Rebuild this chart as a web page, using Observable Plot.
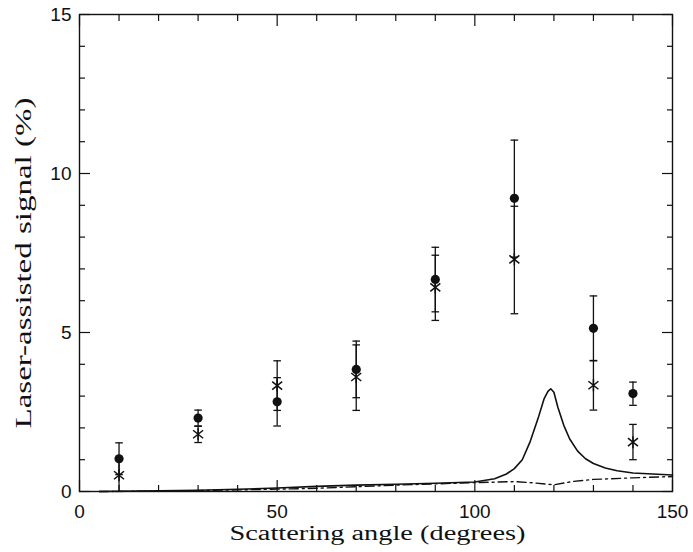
<!DOCTYPE html>
<html>
<head>
<meta charset="utf-8">
<script src="https://cdn.jsdelivr.net/npm/d3@7"></script>
<script src="https://cdn.jsdelivr.net/npm/@observablehq/plot@0.6"></script>
<style>
  html, body { margin: 0; padding: 0; background: #fff; }
</style>
</head>
<body>
<div id="chart"></div>
<script>
// ---- Data ----
const angles   = [10, 30, 50, 70, 90, 110, 130, 140];
const dotVal   = [1.03, 2.31, 2.82, 3.84, 6.67, 9.22, 5.13, 3.08];
const dotLow   = [0.53, 2.06, 2.06, 2.95, 5.65, 7.37, 4.11, 2.71];
const dotHigh  = [1.53, 2.56, 3.58, 4.73, 7.68, 11.05, 6.15, 3.44];
const starVal  = [0.51, 1.80, 3.33, 3.60, 6.42, 7.30, 3.34, 1.55];
const starLow  = [0.00, 1.54, 2.55, 2.55, 5.38, 5.59, 2.56, 1.00];
const starHigh = [1.02, 2.05, 4.11, 4.61, 7.43, 8.97, 4.12, 2.11];

const solidX = [5, 10, 20, 30, 40, 50, 60, 70, 80, 90, 100, 105, 108, 110, 112, 114, 116, 117.5, 118.5, 119.2, 120, 121, 122.5, 124, 126, 128, 130, 133, 136, 140, 145, 150];
const solidY = [0, 0.01, 0.02, 0.04, 0.07, 0.11, 0.16, 0.20, 0.23, 0.26, 0.30, 0.40, 0.55, 0.72, 1.00, 1.57, 2.30, 2.91, 3.15, 3.23, 3.12, 2.65, 2.08, 1.65, 1.27, 1.03, 0.88, 0.74, 0.65, 0.58, 0.55, 0.52];

const dashX = [5, 20, 40, 60, 70, 80, 90, 100, 110, 115, 120, 125, 130, 140, 150];
const dashY = [0, 0.01, 0.05, 0.10, 0.15, 0.20, 0.24, 0.28, 0.31, 0.27, 0.21, 0.32, 0.38, 0.43, 0.47];

const xMajor = [0, 50, 100, 150];
const xMinor = [10, 20, 30, 40, 60, 70, 80, 90, 110, 120, 130, 140];
const yMajor = [0, 5, 10, 15];
const yMinor = [1, 2, 3, 4, 6, 7, 8, 9, 11, 12, 13, 14];

const xTitle = "Scattering angle (degrees)";
const yTitle = "Laser-assisted signal (%)";

// ---- Tables built from the arrays ----
const dotRows = angles.map((a, i) => ({angle: a, v: dotVal[i], lo: dotLow[i], hi: dotHigh[i]}));
const starRows = angles.map((a, i) => ({angle: a, v: starVal[i], lo: starLow[i], hi: starHigh[i]}));
const solidRows = solidX.map((x, i) => ({angle: x, v: solidY[i]}));
const dashRows = dashX.map((x, i) => ({angle: x, v: dashY[i]}));

const capSymbol = {draw(ctx) { ctx.moveTo(-3.8, 0); ctx.lineTo(3.8, 0); }};
const starSymbol = {draw(ctx) {
  ctx.moveTo(0, -6); ctx.lineTo(0, 6);
  ctx.moveTo(-5, -4); ctx.lineTo(5, 4);
  ctx.moveTo(-5, 4); ctx.lineTo(5, -4);
}};

const ink = "#111";
const tickFont = "Liberation Sans, Arial, sans-serif";
const titleFont = "Liberation Serif, Times New Roman, serif";
const blank = () => "";

const chart = Plot.plot({
  width: 693,
  height: 552,
  marginLeft: 79,
  marginRight: 21,
  marginTop: 14,
  marginBottom: 61,
  style: {fontFamily: tickFont, fontSize: "19px", color: ink, background: "#fff"},
  x: {domain: [0, 150], label: null},
  y: {domain: [0, 15], label: null},
  marks: [
    // inward ticks on all four sides
    Plot.axisX({anchor: "bottom", ticks: xMajor, tickSize: -11, tickFormat: blank, strokeWidth: 1.2}),
    Plot.axisX({anchor: "bottom", ticks: xMinor, tickSize: -6, tickFormat: blank, strokeWidth: 1.2}),
    Plot.axisX({anchor: "top", ticks: xMajor, tickSize: -11, tickFormat: blank, strokeWidth: 1.2}),
    Plot.axisX({anchor: "top", ticks: xMinor, tickSize: -6, tickFormat: blank, strokeWidth: 1.2}),
    Plot.axisY({anchor: "left", ticks: yMajor, tickSize: -11, tickFormat: blank, strokeWidth: 1.2}),
    Plot.axisY({anchor: "left", ticks: yMinor, tickSize: -6, tickFormat: blank, strokeWidth: 1.2}),
    Plot.axisY({anchor: "right", ticks: yMajor, tickSize: -11, tickFormat: blank, strokeWidth: 1.2}),
    Plot.axisY({anchor: "right", ticks: yMinor, tickSize: -6, tickFormat: blank, strokeWidth: 1.2}),
    // tick labels
    Plot.axisX({anchor: "bottom", ticks: xMajor, tickSize: 0, tickPadding: 12.5, tickFormat: d => String(d), fontSize: 19}),
    Plot.axisY({anchor: "left", ticks: yMajor, tickSize: 0, tickPadding: 8, tickFormat: d => String(d), fontSize: 19}),
    Plot.frame({stroke: ink, strokeWidth: 1.4}),
    // model curves
    Plot.line(solidRows, {x: "angle", y: "v", stroke: ink, strokeWidth: 1.6}),
    Plot.line(dashRows, {x: "angle", y: "v", stroke: ink, strokeWidth: 1.4, strokeDasharray: "9,4,2,4"}),
    // error bars
    Plot.ruleX(dotRows, {x: "angle", y1: "lo", y2: "hi", stroke: ink, strokeWidth: 1.3}),
    Plot.ruleX(starRows, {x: "angle", y1: "lo", y2: "hi", stroke: ink, strokeWidth: 1.3}),
    Plot.dot(dotRows, {x: "angle", y: "lo", symbol: capSymbol, stroke: ink, strokeWidth: 1.3}),
    Plot.dot(dotRows, {x: "angle", y: "hi", symbol: capSymbol, stroke: ink, strokeWidth: 1.3}),
    Plot.dot(starRows, {x: "angle", y: "lo", symbol: capSymbol, stroke: ink, strokeWidth: 1.3}),
    Plot.dot(starRows, {x: "angle", y: "hi", symbol: capSymbol, stroke: ink, strokeWidth: 1.3}),
    // points
    Plot.dot(dotRows, {x: "angle", y: "v", r: 4.6, fill: ink, stroke: "none"}),
    Plot.dot(starRows, {x: "angle", y: "v", symbol: starSymbol, stroke: ink, strokeWidth: 1.5}),
    // axis titles
    Plot.text([xTitle], {text: d => d, frameAnchor: "bottom", textAnchor: "middle", dx: 1.5, dy: 48, lineAnchor: "bottom",
      fontFamily: titleFont, fontSize: 20, fill: ink}),
    Plot.text([yTitle], {text: d => d, frameAnchor: "left", textAnchor: "middle", rotate: -90, dx: -48.3, dy: 10, lineAnchor: "bottom",
      fontFamily: titleFont, fontSize: 24, fill: ink})
  ]
});

document.getElementById("chart").appendChild(chart);

// stretch titles to the reference's measured lengths
chart.querySelectorAll("text").forEach(t => {
  if (t.textContent === xTitle) { t.setAttribute("textLength", 296); t.setAttribute("lengthAdjust", "spacingAndGlyphs"); }
  if (t.textContent === yTitle) { t.setAttribute("textLength", 331); t.setAttribute("lengthAdjust", "spacingAndGlyphs"); }
});
</script>
</body>
</html>
